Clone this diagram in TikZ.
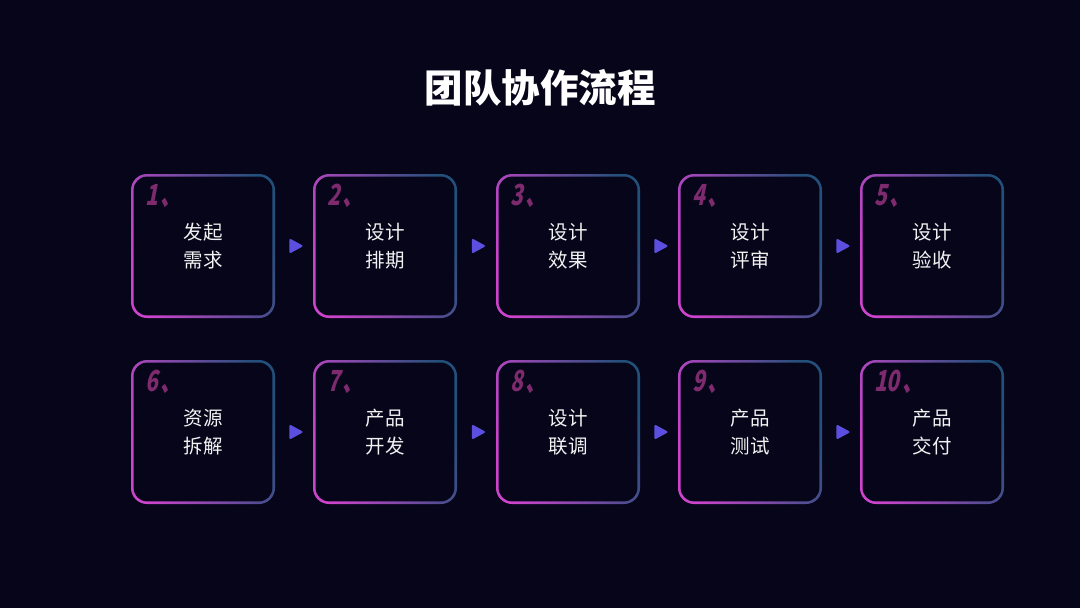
\documentclass[tikz,border=0pt]{standalone}
\usepackage{fontspec}
\usetikzlibrary{calc,shapes.geometric}
\newfontfamily\cjk{Noto Sans CJK SC}
\newfontfamily\numfont[FakeSlant=0.2,FakeStretch=0.72]{Noto Sans CJK SC}
\definecolor{bg}{HTML}{07051A}
\definecolor{mag}{HTML}{CC44CC}
\definecolor{blu}{HTML}{22507A}
\definecolor{numc}{HTML}{7E2A6E}
\definecolor{tric}{HTML}{5C4FE0}
\definecolor{txt}{HTML}{F2F2F2}
\tikzset{
  box/.style={shape=rectangle, rounded corners=16pt, minimum width=144pt, minimum height=144pt,
    inner sep=0pt, left color=mag, right color=blu, shading angle=108,
    text=txt, font=\cjk\fontsize{19.5}{28}\selectfont, align=center,
    path picture={\fill[bg, rounded corners=13.5pt]
      ([shift={(2.6pt,2.6pt)}]path picture bounding box.south west) rectangle
      ([shift={(-2.6pt,-2.6pt)}]path picture bounding box.north east);}},
  num/.style={anchor=north west, text=numc, inner sep=0pt, font=\numfont\bfseries\fontsize{29}{29}\selectfont},
  tri/.style={shape=isosceles triangle, fill=tric, draw=tric, line width=2pt, line join=round,
    minimum width=12pt, minimum height=11pt, inner sep=0pt, isosceles triangle stretches},
  title/.style={text=white, font=\cjk\bfseries\fontsize{38.5}{38.5}\selectfont}
}
\begin{document}
\begin{tikzpicture}[x=1pt,y=-1pt]
\fill[bg] (0,0) rectangle (1080,608);
\useasboundingbox (0,0) rectangle (1080,608);
\node[title] (t) at (540,88) {团队协作流程};
\node[box] (b1) at (203,246) {发起\\需求};
\node[box] (b2) at (385,246) {设计\\排期};
\node[box] (b3) at (568,246) {设计\\效果};
\node[box] (b4) at (750,246) {设计\\评审};
\node[box] (b5) at (932,246) {设计\\验收};
\node[box] (b6) at (203,432) {资源\\拆解};
\node[box] (b7) at (385,432) {产品\\开发};
\node[box] (b8) at (568,432) {设计\\联调};
\node[box] (b9) at (750,432) {产品\\测试};
\node[box] (b10) at (932,432) {产品\\交付};
\foreach \i/\n in {1/1,2/2,3/3,4/4,5/5,6/6,7/7,8/8,9/9,10/10}{
  \node[num] (n\i) at ([shift={(14pt,-10pt)}]b\i.north west) {\n\hspace{3pt}、};
}
\foreach \a/\b in {1/2,2/3,3/4,4/5,6/7,7/8,8/9,9/10}{
  \node[tri] (tr\a) at ($(b\a.east)!0.5!(b\b.west)$) {};
}
\end{tikzpicture}
\end{document}
